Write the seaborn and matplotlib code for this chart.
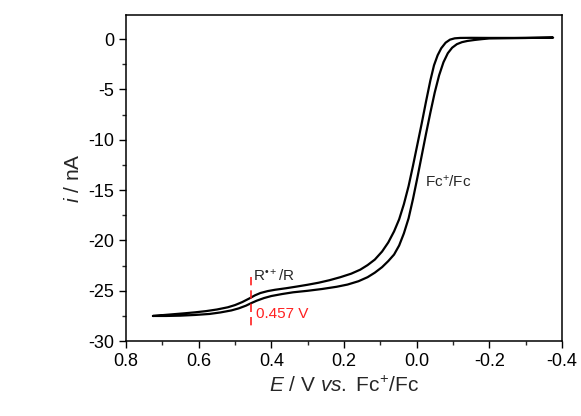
import matplotlib
matplotlib.use("Agg")
import matplotlib.pyplot as plt
from matplotlib.ticker import MultipleLocator
import seaborn as sns
import pandas as pd

# outer branch (left of the steep wave, upper on the plateau)
potential_a = [0.726, 0.70, 0.67, 0.64, 0.61, 0.58, 0.55, 0.52, 0.50, 0.48,
               0.46, 0.445, 0.43, 0.41, 0.39, 0.36, 0.33, 0.30, 0.27, 0.24,
               0.21, 0.18, 0.155, 0.135, 0.115, 0.095, 0.078, 0.062, 0.048,
               0.035, 0.022, 0.01, -0.002, -0.014, -0.026, -0.038, -0.048,
               -0.058, -0.068, -0.08, -0.092, -0.105, -0.12, -0.15, -0.2,
               -0.3, -0.376]
current_a = [-27.5, -27.42, -27.33, -27.24, -27.14, -27.02, -26.86, -26.64,
             -26.42, -26.12, -25.75, -25.45, -25.22, -25.03, -24.9, -24.75,
             -24.58, -24.4, -24.2, -23.95, -23.65, -23.3, -22.9, -22.45,
             -21.9, -21.1, -20.2, -19.1, -17.9, -16.4, -14.6, -12.6, -10.5,
             -8.4, -6.2, -4.1, -2.6, -1.6, -0.9, -0.35, -0.05, 0.08, 0.12,
             0.13, 0.12, 0.12, 0.15]

# inner branch (right of the steep wave, lower on the plateau)
potential_b = [0.726, 0.69, 0.65, 0.61, 0.57, 0.54, 0.51, 0.49, 0.47, 0.455,
               0.44, 0.42, 0.40, 0.37, 0.34, 0.30, 0.26, 0.22, 0.19, 0.16,
               0.135, 0.115, 0.095, 0.078, 0.062, 0.048, 0.035, 0.022, 0.01,
               -0.002, -0.014, -0.026, -0.038, -0.05, -0.062, -0.074, -0.086,
               -0.098, -0.111, -0.125, -0.14, -0.16, -0.18, -0.2]
current_b = [-27.5, -27.5, -27.47, -27.4, -27.3, -27.15, -26.95, -26.75,
             -26.48, -26.22, -25.98, -25.72, -25.52, -25.32, -25.15, -25.0,
             -24.82, -24.6, -24.38, -24.05, -23.65, -23.2, -22.65, -22.05,
             -21.4, -20.5, -19.3, -17.8, -15.9, -13.8, -11.6, -9.4, -7.3,
             -5.3, -3.6, -2.3, -1.4, -0.85, -0.5, -0.3, -0.18, -0.08, 0.0,
             0.07]

x_ticks = [0.8, 0.6, 0.4, 0.2, 0.0, -0.2, -0.4]
y_ticks = [0, -5, -10, -15, -20, -25, -30]
peak_potential = 0.457


def main():
    sns.set_style("ticks")
    plt.rcParams["font.family"] = ["Liberation Sans", "DejaVu Sans"]
    plt.rcParams["mathtext.fontset"] = "custom"
    plt.rcParams["mathtext.rm"] = "Liberation Sans"
    plt.rcParams["mathtext.it"] = "Liberation Sans:italic"
    plt.rcParams["mathtext.bf"] = "Liberation Sans:bold"

    # one closed loop: outer branch out, inner branch back
    loop = pd.DataFrame({
        "E": potential_a + potential_b[::-1],
        "i": current_a + current_b[::-1],
    })

    fig = plt.figure(figsize=(5.81, 4.16), dpi=100)
    ax = fig.add_axes([0.217, 0.180, 0.750, 0.784])

    sns.lineplot(data=loop, x="E", y="i", sort=False, estimator=None,
                 color="black", linewidth=1.6, ax=ax,
                 solid_joinstyle="round", solid_capstyle="round")

    ax.set_xlim(0.8, -0.4)
    ax.set_ylim(-30, 2.4)
    ax.set_xticks(x_ticks)
    ax.set_yticks(y_ticks)
    ax.set_xticklabels(["{:.1f}".format(t) for t in x_ticks])
    ax.set_yticklabels(["{:d}".format(t) for t in y_ticks])
    ax.xaxis.set_minor_locator(MultipleLocator(0.1))
    ax.yaxis.set_minor_locator(MultipleLocator(2.5))
    ax.tick_params(which="major", direction="out", length=5, width=1,
                   labelsize=13, colors="black", top=False, right=False)
    ax.tick_params(which="minor", direction="out", length=3, width=1,
                   top=False, right=False)
    for spine in ax.spines.values():
        spine.set_visible(True)
        spine.set_linewidth(1.1)
        spine.set_color("black")

    ax.set_xlabel(r"$\mathit{E}$ / V $\mathit{vs.}$ Fc$^{+}$/Fc", fontsize=15,
                  labelpad=4)
    ax.set_ylabel(r"$\mathit{i}$ / nA", fontsize=15, labelpad=4)

    # annotations
    ax.text(-0.024, -14.6, r"Fc$^{+}$/Fc", fontsize=11, va="baseline",
            ha="left")
    ax.text(0.45, -24.0, "R$^{\u2022+}$/R", fontsize=11, va="baseline",
            ha="left")
    ax.plot([peak_potential, peak_potential], [-23.6, -28.9], color="#ff2020",
            linewidth=1.2, linestyle=(0, (5, 3)))
    ax.text(0.442, -27.75, "{:.3f} V".format(peak_potential), fontsize=11,
            color="#ff2020", va="baseline", ha="left")

    fig.savefig("out.png", dpi=100)


if __name__ == "__main__":
    main()
